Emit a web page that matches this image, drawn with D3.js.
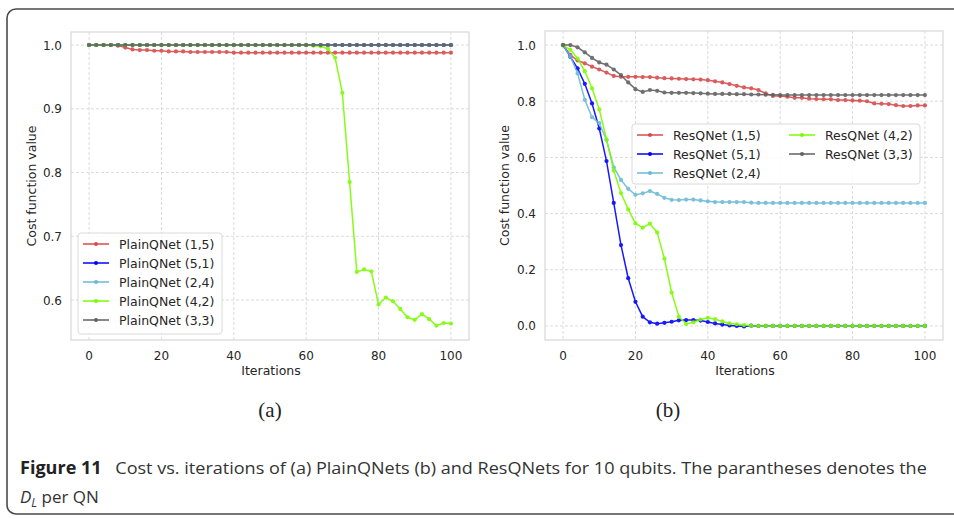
<!DOCTYPE html>
<html>
  <head>
    <meta charset="utf-8" />
    <script src="https://d3js.org/d3.v7.min.js"></script>
    <style>
      body,
      html {
        margin: 0;
        background: #fff;
        overflow: hidden;
      }
    </style>
    <title>Cost vs iterations</title>
  </head>

  <body>
    <svg id="fig" width="954" height="519"></svg>

    <script>
      // iterations (every 2nd step)
      var iterations = [
        0, 2, 4, 6, 8, 10, 12, 14, 16, 18, 20, 22, 24, 26, 28, 30, 32, 34, 36,
        38, 40, 42, 44, 46, 48, 50, 52, 54, 56, 58, 60, 62, 64, 66, 68, 70, 72,
        74, 76, 78, 80, 82, 84, 86, 88, 90, 92, 94, 96, 98, 100,
      ];

      // (a) PlainQNets
      var plain15 = [
        1.0, 1.0, 1.0, 1.0, 0.999, 0.996, 0.993, 0.992, 0.992, 0.991, 0.991,
        0.99, 0.99, 0.99, 0.989, 0.989, 0.989, 0.989, 0.989, 0.989, 0.988,
        0.988, 0.988, 0.988, 0.988, 0.988, 0.988, 0.988, 0.988, 0.988, 0.988,
        0.988, 0.988, 0.988, 0.988, 0.988, 0.988, 0.988, 0.988, 0.988, 0.988,
        0.988, 0.988, 0.988, 0.988, 0.988, 0.988, 0.988, 0.988, 0.988, 0.988,
      ];
      var plain51 = [
        1, 1, 1, 1, 1, 1, 1, 1, 1, 1, 1, 1, 1, 1, 1, 1, 1, 1, 1, 1, 1, 1, 1, 1,
        1, 1, 1, 1, 1, 1, 1, 1, 1, 1, 1, 1, 1, 1, 1, 1, 1, 1, 1, 1, 1, 1, 1, 1,
        1, 1, 1,
      ];
      var plain24 = [
        1, 1, 1, 1, 1, 1, 1, 1, 1, 1, 1, 1, 1, 1, 1, 1, 1, 1, 1, 1, 1, 1, 1, 1,
        1, 1, 1, 1, 1, 1, 1, 1, 1, 1, 1, 1, 1, 1, 1, 1, 1, 1, 1, 1, 1, 1, 1, 1,
        1, 1, 1,
      ];
      var plain42 = [
        1, 1, 1, 1, 1, 1, 1, 1, 1, 1, 1, 1, 1, 1, 1, 1, 1, 1, 1, 1, 1, 1, 1, 1,
        1, 1, 1, 1, 1, 1, 1, 0.999, 0.998, 0.994, 0.98, 0.925, 0.785, 0.644,
        0.648, 0.645, 0.593, 0.604, 0.598, 0.586, 0.573, 0.569, 0.578, 0.57,
        0.56, 0.564, 0.563,
      ];
      var plain33 = [
        1, 1, 1, 1, 1, 1, 1, 1, 1, 1, 1, 1, 1, 1, 1, 1, 1, 1, 1, 1, 1, 1, 1, 1,
        1, 1, 1, 1, 1, 1, 1, 1, 1, 1, 1, 1, 1, 1, 1, 1, 1, 1, 1, 1, 1, 1, 1, 1,
        1, 1, 1,
      ];

      // (b) ResQNets
      var res15 = [
        1.0, 0.965, 0.945, 0.935, 0.923, 0.913, 0.902, 0.89, 0.887, 0.887,
        0.887, 0.886, 0.886, 0.884, 0.882, 0.881, 0.88, 0.879, 0.878, 0.877,
        0.875, 0.871, 0.867, 0.861, 0.855, 0.849, 0.846, 0.84, 0.828, 0.819,
        0.819, 0.816, 0.812, 0.812, 0.809, 0.808, 0.807, 0.807, 0.804, 0.804,
        0.803, 0.802, 0.8, 0.792, 0.791, 0.79, 0.786, 0.783, 0.783, 0.785,
        0.785,
      ];
      var res51 = [
        1.0, 0.958, 0.917, 0.862, 0.792, 0.703, 0.587, 0.438, 0.288, 0.17,
        0.086, 0.033, 0.013, 0.008, 0.011, 0.015, 0.02, 0.021, 0.021, 0.019,
        0.014, 0.009, 0.005, 0.002, 0.0, -0.002, 0.001, 0, 0, 0, 0, 0, 0, 0, 0,
        0, 0, 0, 0, 0, 0, 0, 0, 0, 0, 0, 0, 0, 0, 0, 0,
      ];
      var res24 = [
        1.0, 0.96, 0.899, 0.805, 0.743, 0.722, 0.662, 0.565, 0.52, 0.488,
        0.467, 0.472, 0.48, 0.47, 0.456, 0.449, 0.448, 0.45, 0.45, 0.447,
        0.444, 0.441, 0.441, 0.441, 0.441, 0.441, 0.439, 0.438, 0.438, 0.438,
        0.438, 0.438, 0.438, 0.438, 0.438, 0.438, 0.438, 0.438, 0.438, 0.438,
        0.438, 0.438, 0.438, 0.438, 0.438, 0.438, 0.438, 0.438, 0.438, 0.438,
        0.438,
      ];
      var res42 = [
        1.0, 0.983, 0.952, 0.907, 0.846, 0.771, 0.664, 0.553, 0.473, 0.415,
        0.365, 0.35, 0.364, 0.333, 0.24, 0.119, 0.033, 0.007, 0.013, 0.023,
        0.029, 0.024, 0.016, 0.009, 0.006, 0.003, 0.001, 0, 0, 0, 0, 0, 0, 0, 0,
        0, 0, 0, 0, 0, 0, 0, 0, 0, 0, 0, 0, 0, 0, 0, 0,
      ];
      var res33 = [
        1.0, 1.0, 0.992, 0.974, 0.954, 0.938, 0.93, 0.913, 0.893, 0.867, 0.843,
        0.833, 0.84, 0.837, 0.831, 0.83, 0.83, 0.83, 0.829, 0.828, 0.827,
        0.826, 0.826, 0.826, 0.825, 0.825, 0.824, 0.824, 0.823, 0.823, 0.822,
        0.822, 0.822, 0.822, 0.822, 0.822, 0.822, 0.822, 0.822, 0.822, 0.822,
        0.822, 0.822, 0.822, 0.822, 0.822, 0.822, 0.822, 0.822, 0.822, 0.822,
      ];

      var xTicks = [0, 20, 40, 60, 80, 100];
      var yTicksA = [0.6, 0.7, 0.8, 0.9, 1.0];
      var yTicksB = [0.0, 0.2, 0.4, 0.6, 0.8, 1.0];
      var configs = ["(1,5)", "(5,1)", "(2,4)", "(4,2)", "(3,3)"];
      var colors = ["#d64b4b", "#0000ff", "#6cbad6", "#7cfc00", "#616161"];

      var svg = d3.select("#fig");
      var textColor = "#262626";
      var plotFont = "DejaVu Sans, sans-serif";

      // outer rounded frame of the figure
      svg
        .append("rect")
        .attr("x", 7)
        .attr("y", 9)
        .attr("width", 980)
        .attr("height", 505)
        .attr("rx", 9)
        .attr("fill", "none")
        .attr("stroke", "#4a4a4a")
        .attr("stroke-width", 1.6);

      function drawPanel(opt) {
        var x = d3.scaleLinear().domain([-5, 105]).range([opt.left, opt.right]);
        var y = d3
          .scaleLinear()
          .domain(opt.yDomain)
          .range([opt.bottom, opt.top]);
        var g = svg.append("g").style("font-family", plotFont);

        // grid
        g.selectAll(".gx")
          .data(xTicks)
          .enter()
          .append("line")
          .attr("x1", (d) => x(d))
          .attr("x2", (d) => x(d))
          .attr("y1", opt.top)
          .attr("y2", opt.bottom)
          .attr("stroke", "#d2d2d2")
          .attr("stroke-width", 0.8)
          .attr("stroke-dasharray", "3,2");
        g.selectAll(".gy")
          .data(opt.yTicks)
          .enter()
          .append("line")
          .attr("x1", opt.left)
          .attr("x2", opt.right)
          .attr("y1", (d) => y(d))
          .attr("y2", (d) => y(d))
          .attr("stroke", "#d2d2d2")
          .attr("stroke-width", 0.8)
          .attr("stroke-dasharray", "3,2");

        g.append("rect")
          .attr("x", opt.left)
          .attr("y", opt.top)
          .attr("width", opt.right - opt.left)
          .attr("height", opt.bottom - opt.top)
          .attr("fill", "none")
          .attr("stroke", "#d8d8d8")
          .attr("stroke-width", 1.2);

        // tick labels
        g.selectAll(".tx")
          .data(xTicks)
          .enter()
          .append("text")
          .attr("x", (d) => x(d))
          .attr("y", opt.bottom + 20)
          .attr("text-anchor", "middle")
          .attr("font-size", 12)
          .attr("fill", textColor)
          .text((d) => d);
        g.selectAll(".ty")
          .data(opt.yTicks)
          .enter()
          .append("text")
          .attr("x", opt.left - 9)
          .attr("y", (d) => y(d) + 4.5)
          .attr("text-anchor", "end")
          .attr("font-size", 12)
          .attr("fill", textColor)
          .text((d) => d3.format(".1f")(d));

        g.append("text")
          .attr("x", (opt.left + opt.right) / 2 + 1)
          .attr("y", opt.bottom + 35)
          .attr("text-anchor", "middle")
          .attr("font-size", 12.5)
          .attr("fill", textColor)
          .text("Iterations");
        g.append("text")
          .attr(
            "transform",
            "translate(" +
              opt.ylabelX +
              "," +
              (opt.top + opt.bottom) / 2 +
              ") rotate(-90)"
          )
          .attr("text-anchor", "middle")
          .attr("font-size", 12.5)
          .attr("fill", textColor)
          .text("Cost function value");

        // series
        var line = d3
          .line()
          .x((d) => x(d[0]))
          .y((d) => y(d[1]));
        opt.series.forEach(function (s, k) {
          var pts = iterations.map((it, i) => [it, s[i]]);
          var sg = g.append("g").attr("opacity", 0.9);
          sg.append("path")
            .attr("d", line(pts))
            .attr("fill", "none")
            .attr("stroke", colors[k])
            .attr("stroke-width", 1.5);
          sg.selectAll(null)
            .data(pts)
            .enter()
            .append("circle")
            .attr("cx", (d) => x(d[0]))
            .attr("cy", (d) => y(d[1]))
            .attr("r", 2.1)
            .attr("fill", colors[k]);
        });

        // legend
        var lg = g.append("g");
        lg.append("rect")
          .attr("x", opt.legend.x)
          .attr("y", opt.legend.y)
          .attr("width", opt.legend.w)
          .attr("height", opt.legend.h)
          .attr("rx", 3)
          .attr("fill", "rgba(255,255,255,0.85)")
          .attr("stroke", "#dadada");
        configs.forEach(function (c, k) {
          var pos = opt.legend.pos[k];
          lg.append("line")
            .attr("x1", pos[0])
            .attr("x2", pos[0] + 26)
            .attr("y1", pos[1])
            .attr("y2", pos[1])
            .attr("stroke", colors[k])
            .attr("stroke-width", 1.5);
          lg.append("circle")
            .attr("cx", pos[0] + 13)
            .attr("cy", pos[1])
            .attr("r", 2)
            .attr("fill", colors[k]);
          lg.append("text")
            .attr("x", pos[0] + 36)
            .attr("y", pos[1] + 4.5)
            .attr("font-size", 12.5)
            .attr("fill", textColor)
            .text(opt.name + " " + c);
        });
      }

      drawPanel({
        left: 71,
        right: 469,
        top: 32,
        bottom: 340,
        yDomain: [0.5373, 1.0204],
        yTicks: yTicksA,
        ylabelX: 36,
        name: "PlainQNet",
        series: [plain15, plain51, plain24, plain42, plain33],
        legend: {
          x: 78,
          y: 233,
          w: 144,
          h: 101,
          pos: [
            [83, 244],
            [83, 263],
            [83, 282],
            [83, 301],
            [83, 320],
          ],
        },
      });

      drawPanel({
        left: 545,
        right: 943,
        top: 31,
        bottom: 340,
        yDomain: [-0.05, 1.05],
        yTicks: yTicksB,
        ylabelX: 509,
        name: "ResQNet",
        series: [res15, res51, res24, res42, res33],
        legend: {
          x: 632,
          y: 124,
          w: 288,
          h: 60,
          pos: [
            [637, 135],
            [637, 154],
            [637, 173],
            [789, 135],
            [789, 154],
          ],
        },
      });

      // sub-figure labels
      ["(a)", "(b)"].forEach(function (t, i) {
        svg
          .append("text")
          .attr("x", [270, 668][i])
          .attr("y", 417)
          .attr("text-anchor", "middle")
          .style("font-family", "'Liberation Serif', serif")
          .attr("font-size", 21)
          .attr("fill", "#222")
          .text(t);
      });

      // caption
      var capFont = "'Open Sans', sans-serif";
      var cap = svg.append("g");
      var c1 = cap
        .append("text")
        .attr("x", 0)
        .attr("y", 0)
        .style("font-family", capFont)
        .attr("font-size", 17)
        .attr("fill", "#333");
      c1.append("tspan")
        .attr("font-weight", "bold")
        .attr("fill", "#222")
        .text("Figure 11");
      c1.append("tspan").text(
        "\u2002 Cost vs. iterations of (a) PlainQNets (b) and ResQNets for 10 qubits. The parantheses denotes the"
      );
      var w1 = c1.node().getComputedTextLength();
      cap.attr("transform", "translate(20,474) scale(" + 908 / w1 + ",1)");

      var c2 = svg
        .append("text")
        .attr("x", 20)
        .attr("y", 503)
        .style("font-family", capFont)
        .attr("font-size", 17)
        .attr("fill", "#333");
      c2.append("tspan").attr("font-style", "italic").text("D");
      c2.append("tspan")
        .attr("font-style", "italic")
        .attr("font-size", 12)
        .attr("dy", 4)
        .text("L");
      c2.append("tspan").attr("dy", -4).text(" per QN");
    </script>
  </body>
</html>
